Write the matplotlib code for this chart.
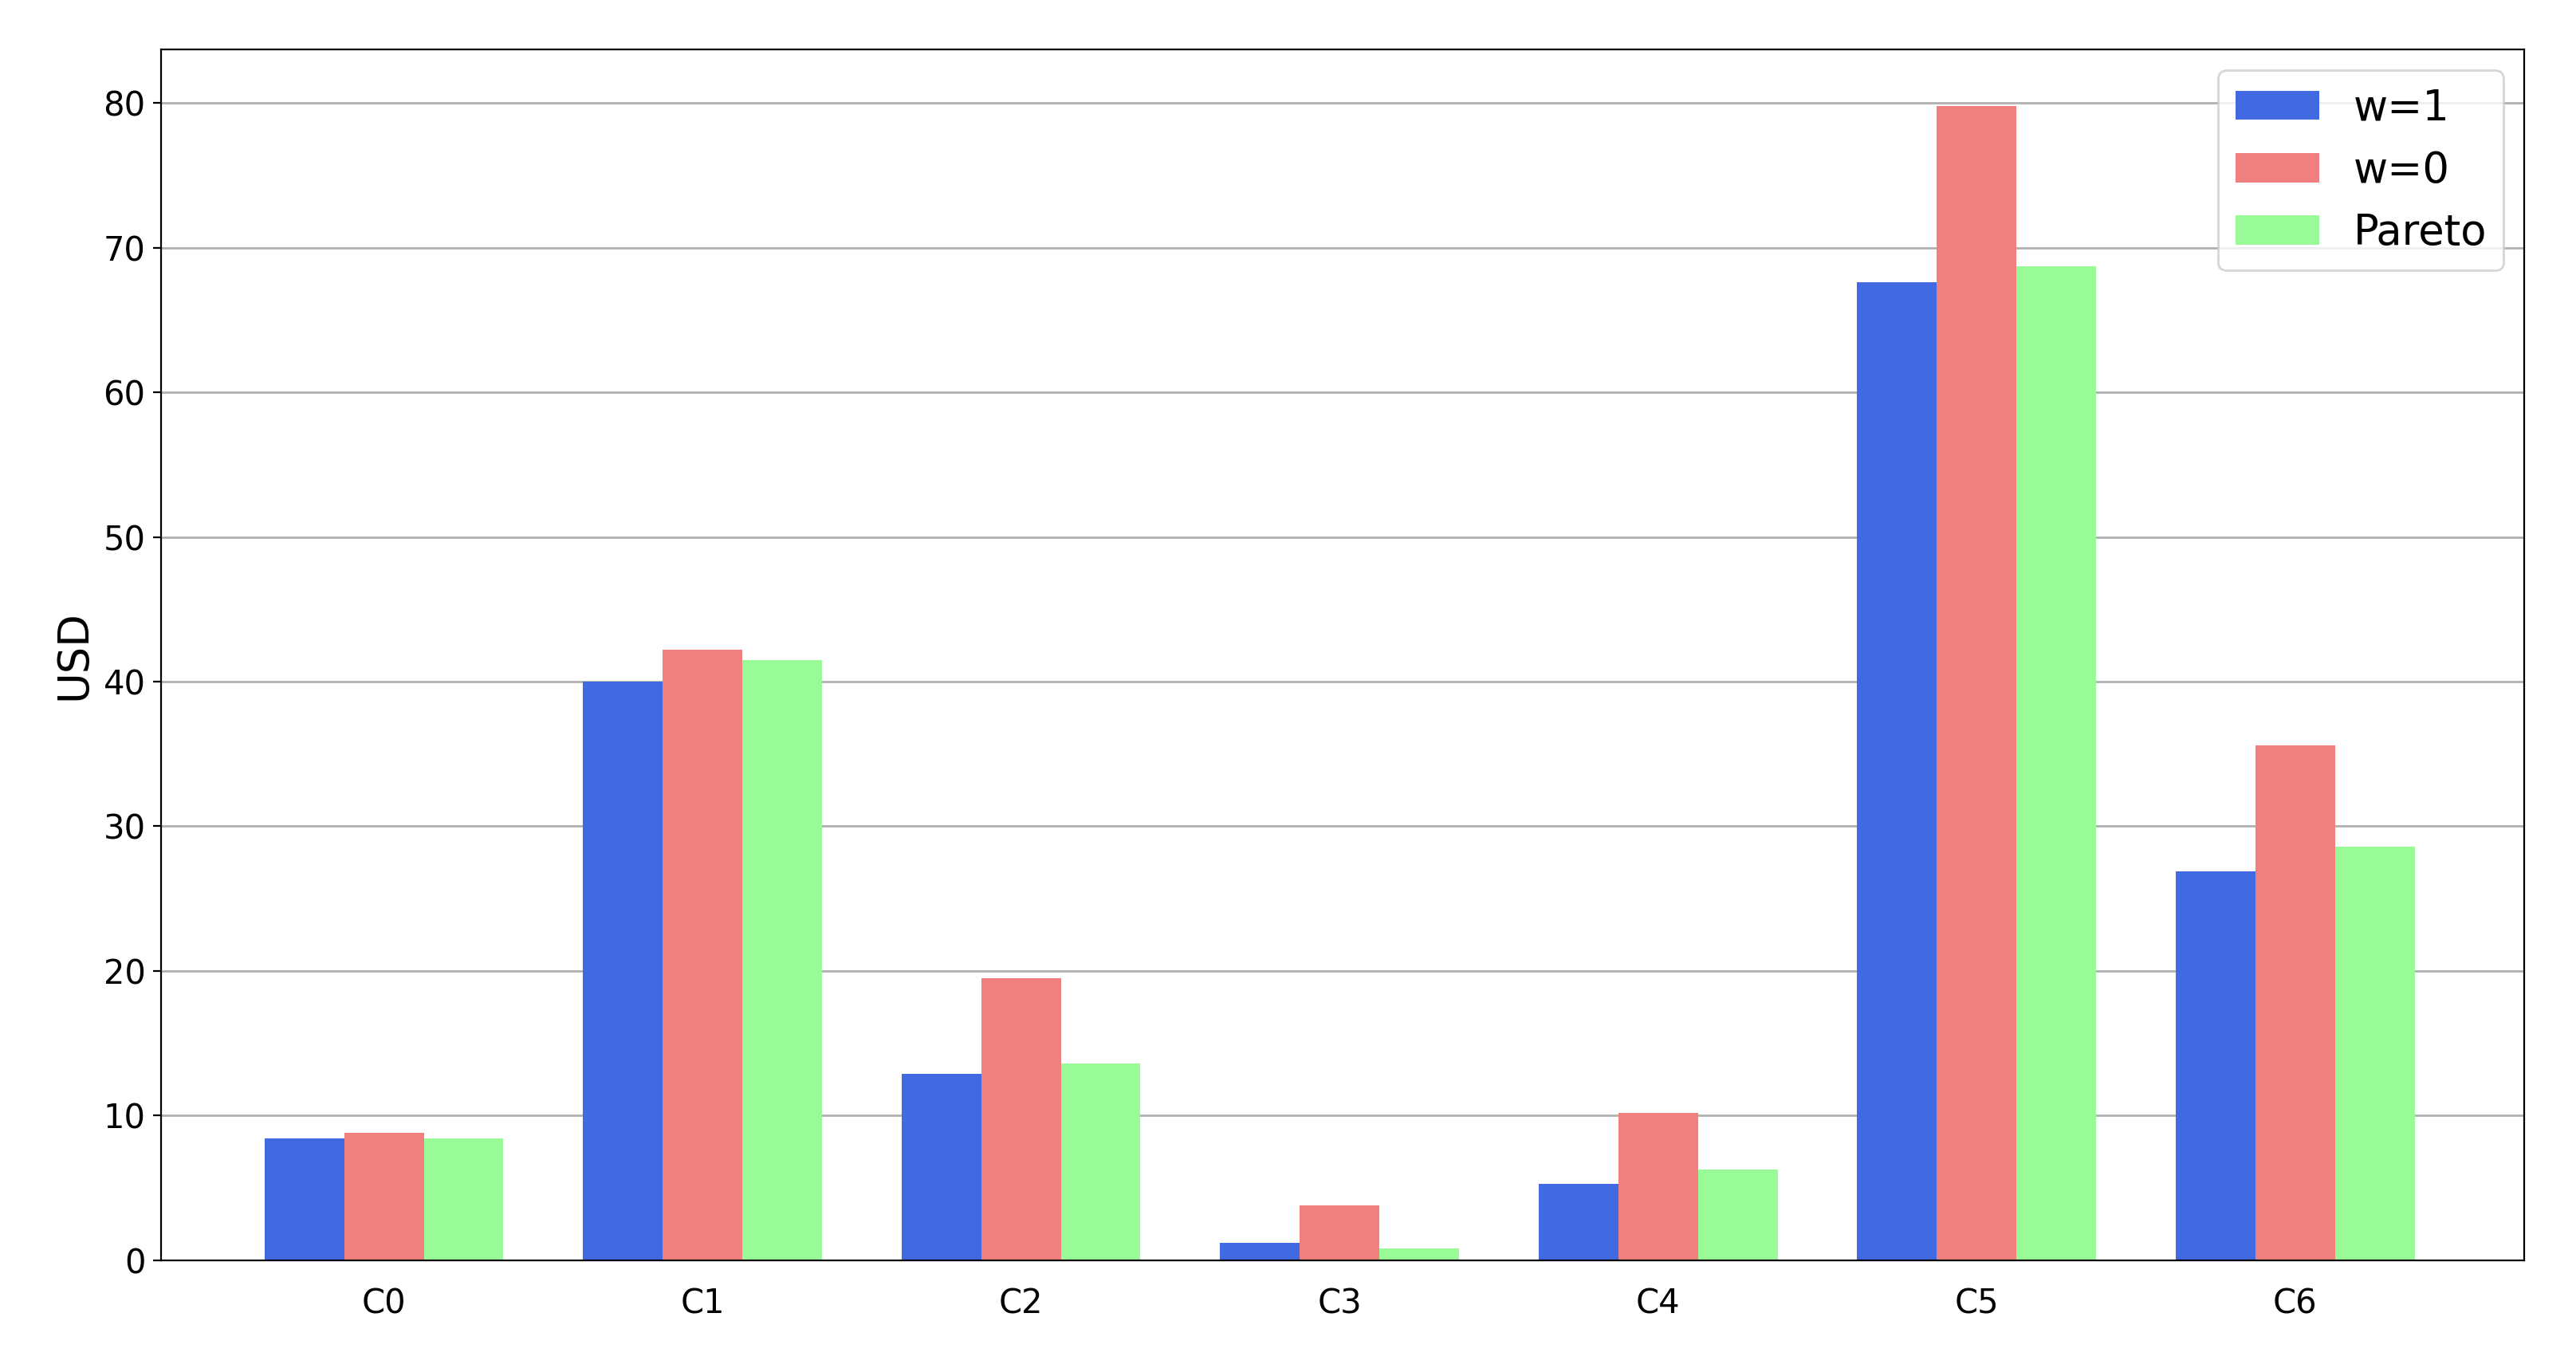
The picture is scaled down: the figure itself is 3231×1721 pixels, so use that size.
import matplotlib
matplotlib.use("Agg")
import matplotlib.pyplot as plt
import numpy as np

categories = ["C0", "C1", "C2", "C3", "C4", "C5", "C6"]
w1 = [8.4, 40.0, 12.9, 1.2, 5.3, 67.6, 26.9]
w0 = [8.8, 42.2, 19.5, 3.8, 10.2, 79.8, 35.6]
pareto = [8.4, 41.5, 13.6, 0.8, 6.3, 68.7, 28.6]

fig = plt.figure(figsize=(16.155, 8.605), dpi=200)
ax = fig.add_axes([0.0625, 0.0814, 0.9175, 0.8826])
x = np.arange(len(categories))
bw = 0.25
ax.bar(x - bw, w1, bw, color="royalblue", label="w=1", zorder=2)
ax.bar(x, w0, bw, color="lightcoral", label="w=0", zorder=2)
ax.bar(x + bw, pareto, bw, color="palegreen", label="Pareto", zorder=2)
ax.set_xticks(x)
ax.set_xticklabels(categories)
ax.set_xlim(-0.7, 6.72)
ax.set_ylim(0, 83.7)
ax.yaxis.grid(True, color="#b0b0b0", linewidth=1, zorder=0)
ax.tick_params(labelsize=15)
ax.tick_params(axis="x", length=0, pad=12)
ax.set_ylabel("USD", fontsize=19)
ax.legend(fontsize=19, loc="upper right")
fig.savefig("out.png", dpi=200)
